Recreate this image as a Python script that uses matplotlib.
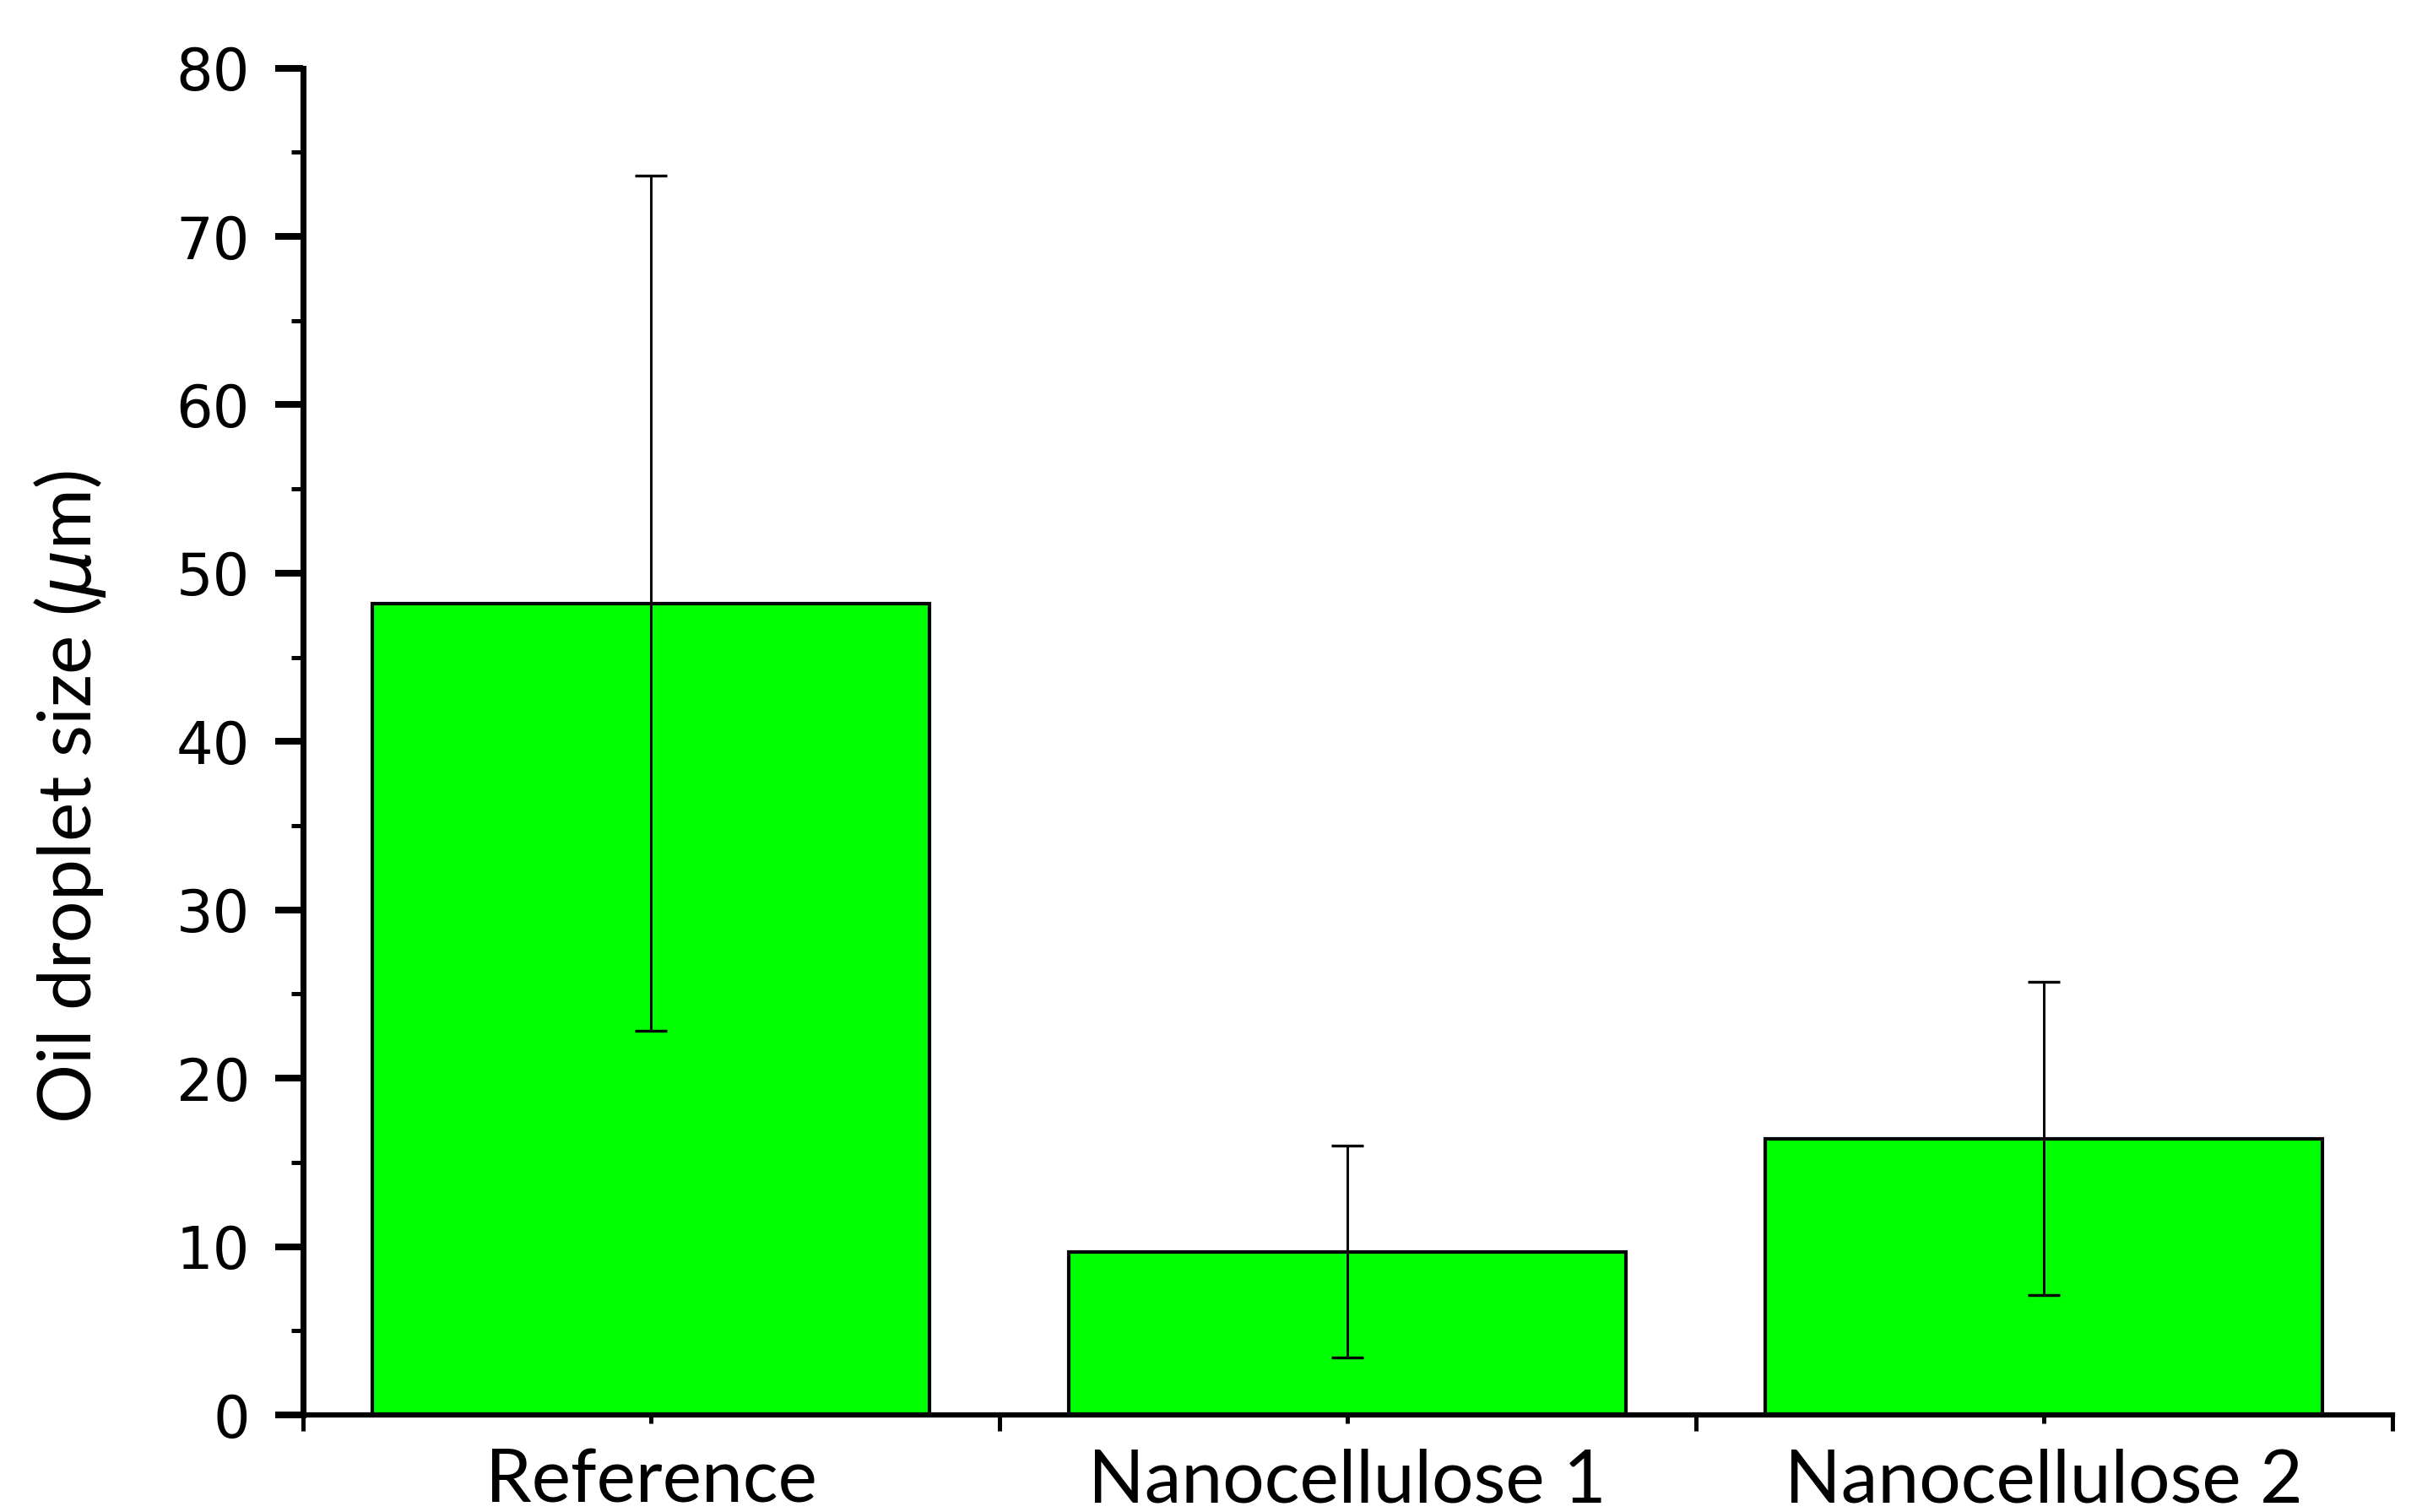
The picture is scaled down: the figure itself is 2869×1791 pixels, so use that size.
import numpy as np
import matplotlib
matplotlib.use("Agg")
import matplotlib.pyplot as plt
from matplotlib.ticker import MultipleLocator, FixedLocator, NullFormatter

# data
categories = ["Reference", "Nanocellulose 1", "Nanocellulose 2"]
droplet_size = [48.2, 9.7, 16.4]
size_err = [25.4, 6.3, 9.3]

plt.rcParams['mathtext.fontset'] = 'dejavusans'

fig = plt.figure(figsize=(2869 / 300, 1791 / 300), dpi=300)
ax = fig.add_axes([0.125, 0.0642, 0.8628, 0.8908])

x = np.arange(len(categories))
ax.bar(x, droplet_size, width=0.8, color="#00ff00", edgecolor="black",
       linewidth=1.0, zorder=2)
ax.errorbar(x, droplet_size, yerr=size_err, fmt="none", ecolor="black",
            elinewidth=0.7, capsize=4.6, capthick=0.8, zorder=3)

ax.set_xlim(-0.5, 2.5)
ax.set_ylim(0, 80)

for s in ["top", "right"]:
    ax.spines[s].set_visible(False)
ax.spines["left"].set_linewidth(1.7)
ax.spines["bottom"].set_linewidth(1.5)
ax.spines["bottom"].set_zorder(4)

ax.yaxis.set_major_locator(MultipleLocator(10))
ax.yaxis.set_minor_locator(MultipleLocator(5))
ax.tick_params(axis="y", which="major", length=8, width=1.9, direction="out",
               pad=7, labelsize=16.5)
ax.tick_params(axis="y", which="minor", length=3.4, width=1.2, direction="out")
for lab in ax.get_yticklabels():
    lab.set_family("DejaVu Sans")

ax.set_xticks(x)
ax.set_xticklabels(categories, fontsize=21, family="Lato")
ax.xaxis.set_minor_locator(FixedLocator([-0.5, 0.5, 1.5, 2.5]))
ax.xaxis.set_minor_formatter(NullFormatter())
ax.tick_params(axis="x", which="major", length=2.5, width=1.2, direction="out", pad=7)
ax.tick_params(axis="x", which="minor", length=4.5, width=1.2, direction="out")

fig.text(0.0289, 0.473, r"Oil droplet size ($\mu$m)", rotation=90,
         ha="center", va="center", fontsize=21, family="Lato")

fig.savefig("out.png", dpi=300)
